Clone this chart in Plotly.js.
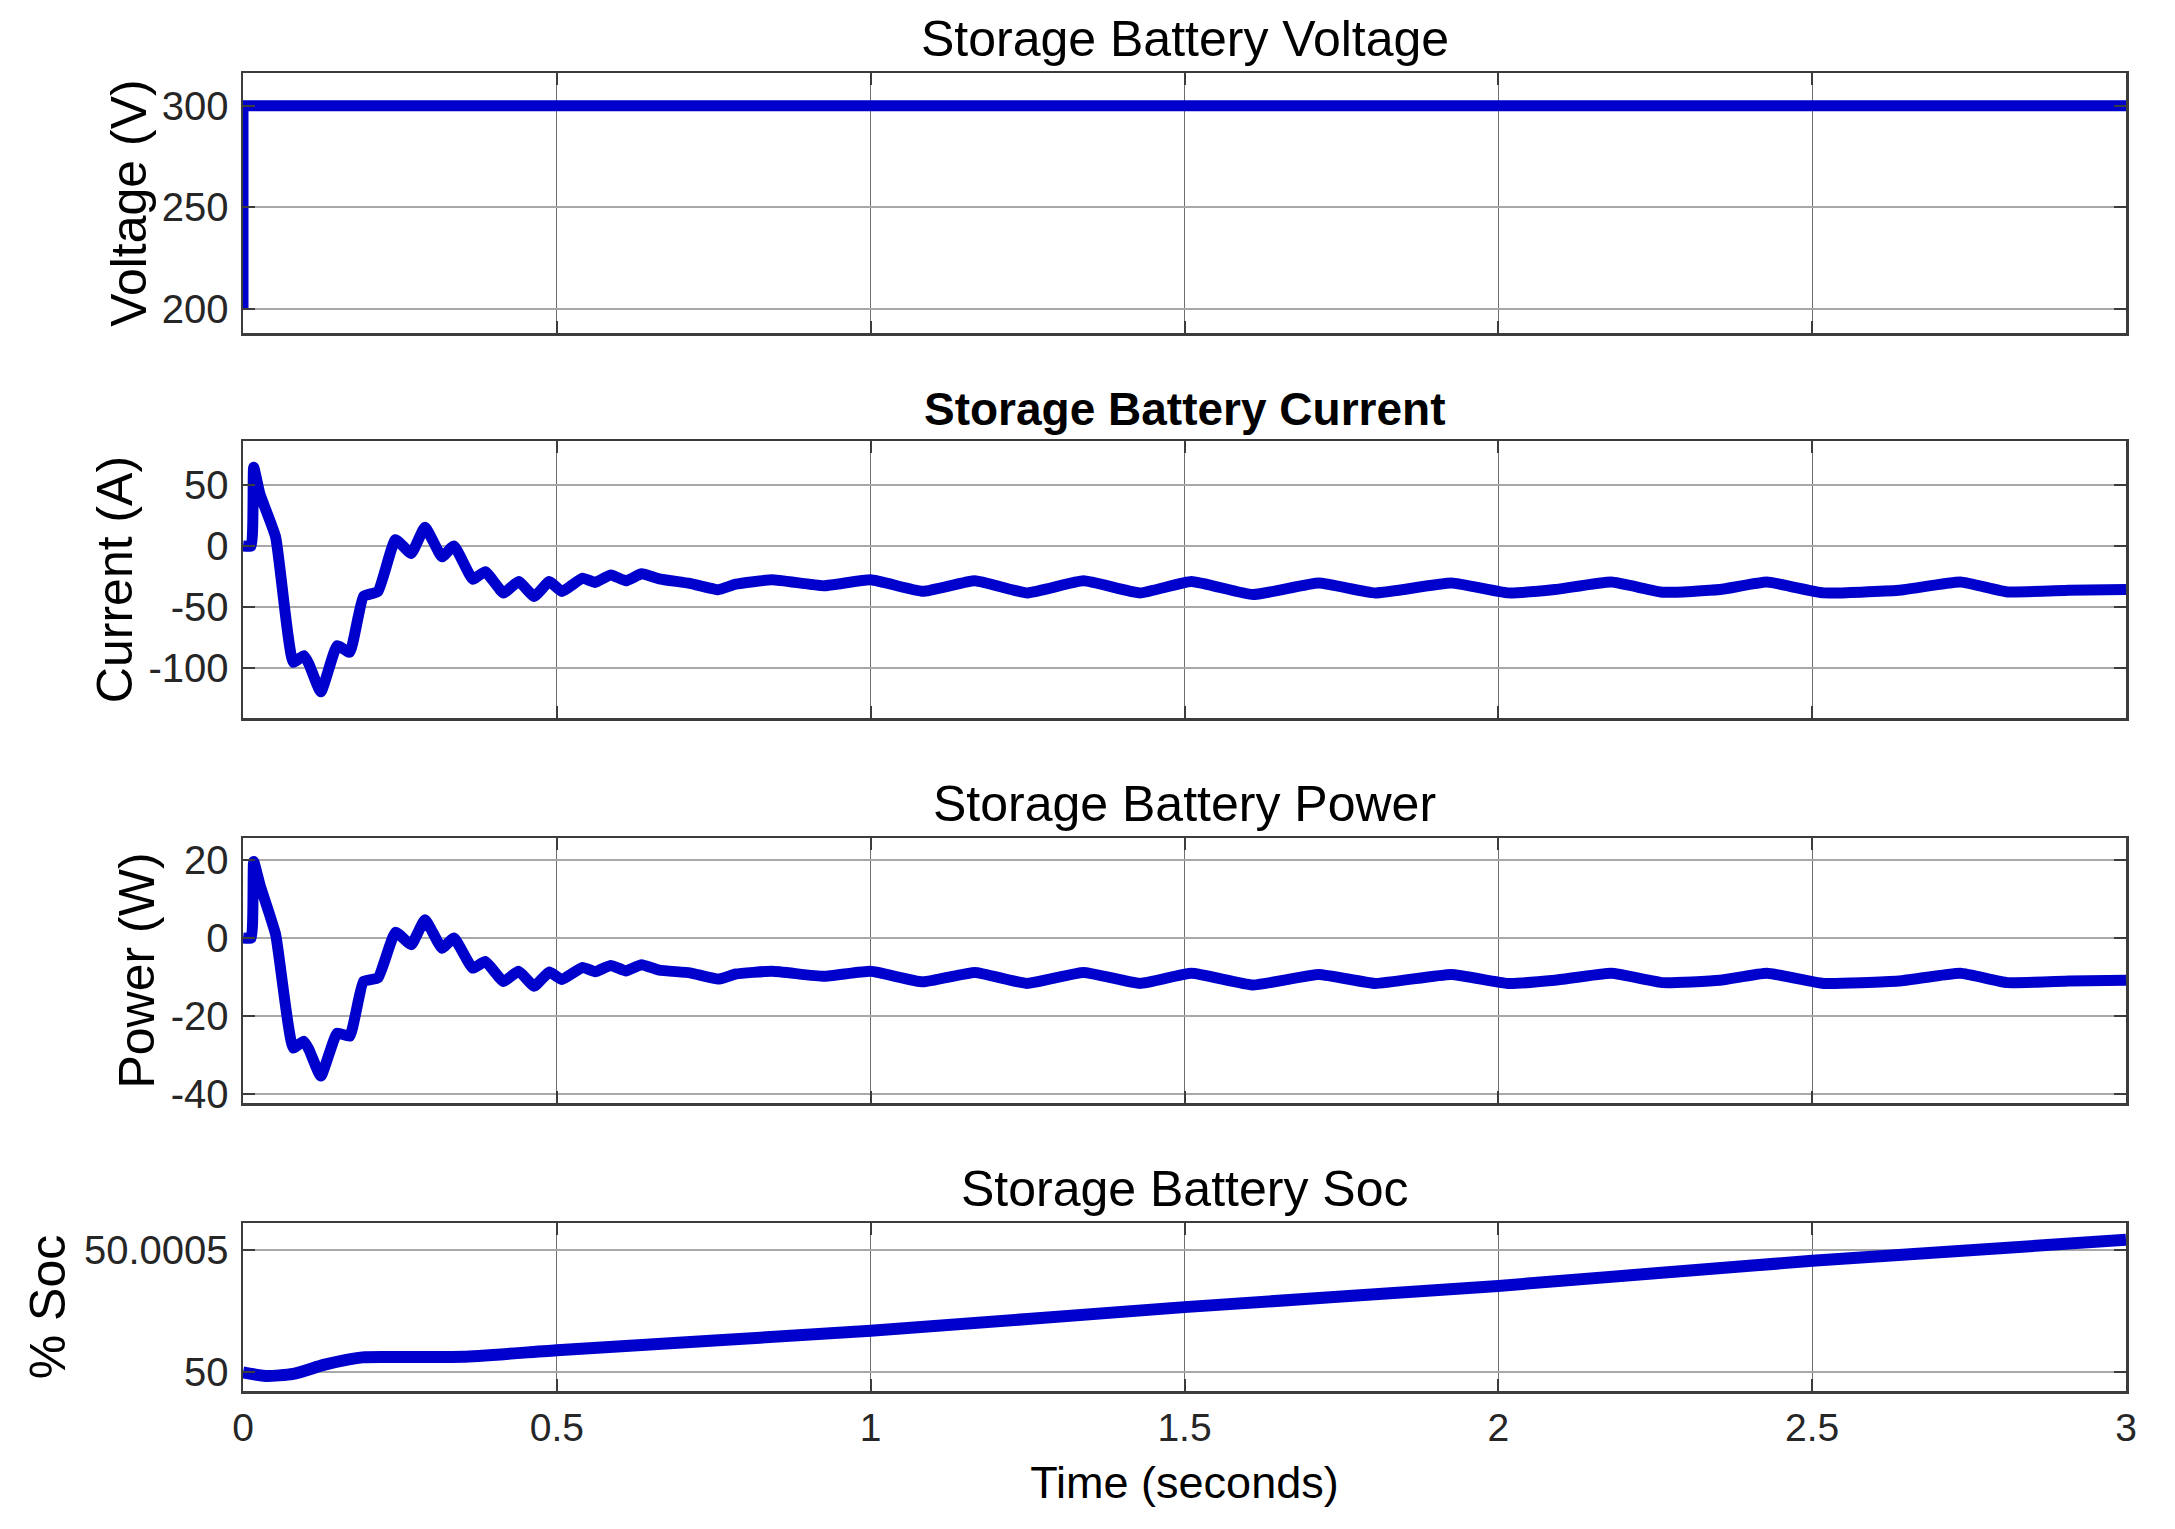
<!DOCTYPE html>
<html>
<head>
<meta charset="utf-8">
<script src="https://cdn.plot.ly/plotly-3.0.1.min.js"></script>
<style>
  body { margin: 0; background: #fff; }
  #chart { width: 2175px; height: 1529px; }
</style>
</head>
<body>
<div id="chart"></div>
<script>
// battery voltage (V)
var tVoltage = [0, 0, 3];
var voltage = [200, 300, 300];

// transient time axis, shared by current and power (s)
var tTrans = [0, 0.013, 0.017, 0.027, 0.052, 0.080, 0.097, 0.105, 0.124, 0.150, 0.170, 0.192, 0.215,
  0.243, 0.268, 0.290, 0.317, 0.336, 0.366, 0.386, 0.415, 0.439, 0.464, 0.488, 0.508, 0.541, 0.561,
  0.586, 0.610, 0.635, 0.663, 0.712, 0.757, 0.785, 0.843, 0.925, 1.000, 1.083, 1.166, 1.249, 1.339,
  1.429, 1.511, 1.609, 1.714, 1.804, 1.925, 2.015, 2.090, 2.180, 2.263, 2.353, 2.428, 2.518, 2.638,
  2.736, 2.811, 2.909, 3.000];

// battery current (A)
var current = [0, 0, 64.8, 42.6, 7.3, -95.6, -90.2, -97, -120, -82, -87.5, -41.5, -37.4,
  5.2, -6.2, 15.4, -8.9, 0, -27.3, -21.1, -38.7, -29.3, -41.5, -29.3, -37.4, -26.5, -30,
  -23.8, -28.7, -22.9, -27, -30.8, -36, -31.5, -27.8, -32.7, -27.8, -37.3, -28.6, -38.6, -28.6,
  -38.6, -29.2, -40, -30.5, -38.6, -30.5, -38.6, -35.9, -29.7, -38.1, -35.9, -29.7, -38.6, -36.5,
  -29.7, -37.8, -36.5, -35.9];

// battery power (W)
var power = [0, 0, 19.6, 13.6, 0.9, -28.1, -26.4, -28.5, -35.3, -24.3, -25.1, -11.1, -10.2,
  1.5, -1.7, 4.7, -2.6, 0, -7.7, -6.0, -11.1, -8.5, -12.3, -8.7, -10.6, -7.5, -8.6,
  -7.0, -8.4, -6.8, -8.2, -8.9, -10.5, -9.2, -8.5, -9.8, -8.5, -11.2, -8.8, -11.6, -8.8,
  -11.6, -9.0, -12.0, -9.3, -11.6, -9.3, -11.6, -10.8, -9.0, -11.4, -10.8, -9.0, -11.6, -11.0,
  -9.0, -11.4, -11.0, -10.8];

// state of charge (%)
var tSoc = [0, 0.036, 0.08, 0.13, 0.19, 0.27, 0.35, 0.5, 1.0, 1.5, 2.0, 2.5, 3.0];
var soc = [49.999998, 49.999984, 49.999992, 50.000030, 50.000060, 50.000061, 50.000062,
  50.000089, 50.000169, 50.000266, 50.000353, 50.000456, 50.000542];

var panelTitles = ['Storage Battery Voltage', 'Storage Battery Current', 'Storage Battery Power', 'Storage Battery Soc'];
var yTitles = ['Voltage (V)', 'Current (A)', 'Power (W)', '% Soc'];
var xTicks = [0, 0.5, 1, 1.5, 2, 2.5, 3];
var xTickText = ['0', '0.5', '1', '1.5', '2', '2.5', '3'];

var W = 2175, H = 1529;
var FONT = 'Liberation Sans, Arial, sans-serif';
var BLUE = '#0000cd';

// plot area in pixels
var xLeft = 243, xRight = 2126;
var panelsPx = [[73, 333], [441, 718], [838, 1103], [1223, 1391]];

function ydom(p) {
  return [1 - p[1] / H, 1 - p[0] / H];
}
var xdom = [xLeft / W, xRight / W];

function xaxisStyle(anchor, last) {
  return {
    domain: xdom, anchor: anchor, range: [0, 3],
    tickvals: xTicks, ticktext: xTickText, showticklabels: last,
    showline: true, linecolor: '#3c3c3c', linewidth: 2.5, mirror: 'ticks',
    ticks: 'inside', ticklen: 12, tickwidth: 2, tickcolor: '#3c3c3c',
    showgrid: true, gridcolor: '#6e6e6e', gridwidth: 1.3, zeroline: false,
    tickfont: {family: FONT, size: 39, color: '#262626'},
    ticklabelstandoff: 1
  };
}

function yaxisStyle(anchor, dom, range, vals, text, title, standoff) {
  return {
    domain: dom, anchor: anchor, range: range,
    tickvals: vals, ticktext: text,
    showline: true, linecolor: '#3c3c3c', linewidth: 2.5, mirror: 'ticks',
    ticks: 'inside', ticklen: 12, tickwidth: 2, tickcolor: '#3c3c3c',
    showgrid: true, gridcolor: '#a8a8a8', gridwidth: 2, zeroline: false,
    tickfont: {family: FONT, size: 40, color: '#262626'},
    ticklabelstandoff: 4,
    title: {text: title, standoff: standoff, font: {family: FONT, size: 50, color: '#000'}}
  };
}

var lineStyle = {color: BLUE, width: 11};
var waveStyle = {color: BLUE, width: 11, shape: 'spline', smoothing: 0.4};

var data = [
  {x: tVoltage, y: voltage, xaxis: 'x', yaxis: 'y', mode: 'lines', line: lineStyle},
  {x: tTrans, y: current, xaxis: 'x2', yaxis: 'y2', mode: 'lines', line: waveStyle},
  {x: tTrans, y: power, xaxis: 'x3', yaxis: 'y3', mode: 'lines', line: waveStyle},
  {x: tSoc, y: soc, xaxis: 'x4', yaxis: 'y4', mode: 'lines', line: {color: BLUE, width: 12, shape: 'spline', smoothing: 0.6}}
];

var titleShift = [4, 4, 4, 4];
var annotations = [];
for (var i = 0; i < 4; i++) {
  annotations.push({
    text: panelTitles[i], xref: 'paper', yref: 'paper',
    x: (xdom[0] + xdom[1]) / 2, y: ydom(panelsPx[i])[1],
    xanchor: 'center', yanchor: 'bottom', yshift: titleShift[i], showarrow: false,
    font: {family: FONT, size: i == 1 ? 46 : 50, color: '#000', weight: i == 1 ? 'bold' : 'normal'}
  });
}

var layout = {
  width: W, height: H,
  margin: {l: 0, r: 0, t: 0, b: 0},
  paper_bgcolor: '#fff', plot_bgcolor: '#fff',
  showlegend: false,
  xaxis: xaxisStyle('y', false),
  xaxis2: xaxisStyle('y2', false),
  xaxis3: xaxisStyle('y3', false),
  xaxis4: xaxisStyle('y4', true),
  yaxis: yaxisStyle('x', ydom(panelsPx[0]), [188.2, 316.1], [200, 250, 300], ['200', '250', '300'], yTitles[0], 0),
  yaxis2: yaxisStyle('x2', ydom(panelsPx[1]), [-141.5, 86.3], [-100, -50, 0, 50], ['-100', '-50', '0', '50'], yTitles[1], 0),
  yaxis3: yaxisStyle('x3', ydom(panelsPx[2]), [-42.2, 25.6], [-40, -20, 0, 20], ['-40', '-20', '0', '20'], yTitles[2], 0),
  yaxis4: yaxisStyle('x4', ydom(panelsPx[3]), [49.999922, 50.000611], [50, 50.0005], ['50', '50.0005'], yTitles[3], 3),
  annotations: annotations
};
layout.xaxis4.title = {text: 'Time (seconds)', standoff: 18, font: {family: FONT, size: 45, color: '#000'}};

Plotly.newPlot('chart', data, layout, {displayModeBar: false, staticPlot: true});
</script>
</body>
</html>
